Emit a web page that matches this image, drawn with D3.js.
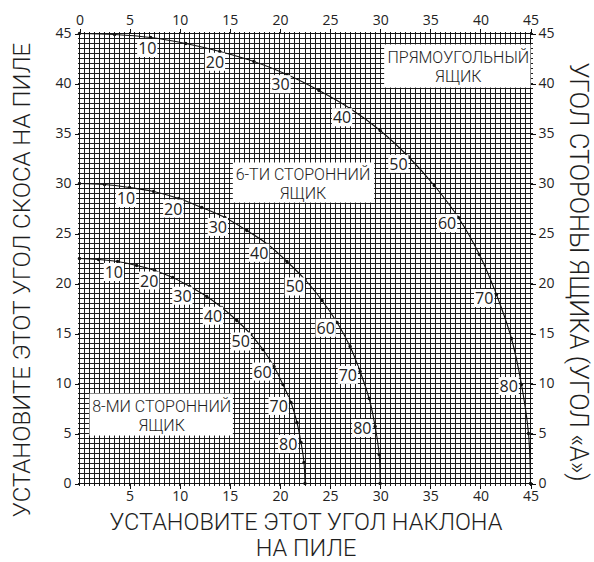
<!DOCTYPE html>
<html>
<head>
<meta charset="utf-8">
<script src="https://cdn.jsdelivr.net/npm/d3@7"></script>
<style>
  html, body { margin: 0; padding: 0; background: #fff; }
  svg { display: block; }
</style>
</head>
<body>
<svg id="chart" width="594" height="562"></svg>
<script>
// Side angle of the box (angle "A"), one point every 5 degrees
const sideAngles = [0, 5, 10, 15, 20, 25, 30, 35, 40, 45, 50, 55, 60, 65, 70, 75, 80, 85, 90];

// Rectangular (4-sided) box: saw tilt and miter settings
const squareTilt  = [0, 3.5, 7.1, 10.6, 14.0, 17.4, 20.7, 23.9, 27.0, 30.0, 32.8, 35.4, 37.8, 39.9, 41.6, 43.1, 44.1, 44.8, 45];
const squareMiter = [45, 44.9, 44.6, 44.0, 43.2, 42.2, 40.9, 39.3, 37.5, 35.3, 32.7, 29.8, 26.6, 22.9, 18.9, 14.5, 9.9, 5.0, 0];

// 6-sided box
const hexTilt  = [0, 2.5, 5.0, 7.4, 9.9, 12.2, 14.5, 16.7, 18.8, 20.7, 22.5, 24.2, 25.7, 27.0, 28.0, 28.9, 29.5, 29.9, 30];
const hexMiter = [30, 29.9, 29.6, 29.2, 28.5, 27.6, 26.6, 25.3, 23.9, 22.2, 20.4, 18.3, 16.1, 13.7, 11.2, 8.5, 5.7, 2.9, 0];

// 8-sided box
const octTilt  = [0, 1.9, 3.8, 5.7, 7.5, 9.3, 11.0, 12.7, 14.2, 15.7, 17.1, 18.3, 19.4, 20.3, 21.1, 21.7, 22.1, 22.4, 22.5];
const octMiter = [22.5, 22.4, 22.2, 21.8, 21.3, 20.6, 19.7, 18.7, 17.6, 16.3, 14.9, 13.4, 11.7, 9.9, 8.1, 6.1, 4.1, 2.1, 0];

// Angles that carry a number on each curve
const labelledAngles = [10, 20, 30, 40, 50, 60, 70, 80];

// Axis tick labels
const topTicks    = [0, 5, 10, 15, 20, 25, 30, 35, 40, 45];
const bottomTicks = [5, 10, 15, 20, 25, 30, 35, 40, 45];
const sideTicks   = [0, 5, 10, 15, 20, 25, 30, 35, 40, 45];

const boxNames = [
  ["ПРЯМОУГОЛЬНЫЙ", "ЯЩИК"],
  ["6-ТИ СТОРОННИЙ", "ЯЩИК"],
  ["8-МИ СТОРОННИЙ", "ЯЩИК"]
];

const xTitle = ["УСТАНОВИТЕ ЭТОТ УГОЛ НАКЛОНА", "НА ПИЛЕ"];
const yTitle = "УСТАНОВИТЕ ЭТОТ УГОЛ СКОСА НА ПИЛЕ";
const y2Title = "УГОЛ СТОРОНЫ ЯЩИКА (УГОЛ «А»)";

const svg = d3.select("#chart");
const x = d3.scaleLinear().domain([0, 45]).range([79.5, 530.5]);
const y = d3.scaleLinear().domain([0, 45]).range([483.5, 33.5]);

const numFont = "'Open Sans', 'Noto Sans', sans-serif";
const titleFont = "Roboto, 'Liberation Sans', Arial, sans-serif";
const inkColor = "#1e1e1e";

// Fine grid, every half degree
const gridVals = d3.range(0, 45.001, 0.5);
const grid = svg.append("g").attr("stroke", "#1a1a1a").attr("stroke-width", 1).attr("shape-rendering", "crispEdges");
grid.selectAll("line.v").data(gridVals).join("line")
  .attr("x1", d => x(d)).attr("x2", d => x(d))
  .attr("y1", y(45) - 2).attr("y2", y(0) + 2);
grid.selectAll("line.h").data(gridVals).join("line")
  .attr("y1", d => y(d)).attr("y2", d => y(d))
  .attr("x1", x(0) - 2).attr("x2", x(45) + 2);

// Axes with major ticks on all four sides
const axisStyle = g => {
  g.select(".domain").remove();
  g.selectAll(".tick line").attr("stroke", "#111").attr("shape-rendering", "crispEdges");
  g.selectAll(".tick text").attr("font-family", numFont).attr("font-size", 14).attr("fill", "#222");
};
svg.append("g").attr("transform", `translate(0,${y(45)})`)
  .call(d3.axisTop(x).tickValues(topTicks).tickSize(5).tickPadding(4)).call(axisStyle);
svg.append("g").attr("transform", `translate(0,${y(0)})`)
  .call(d3.axisBottom(x).tickValues(bottomTicks).tickSize(5).tickPadding(3)).call(axisStyle);
svg.append("g").attr("transform", `translate(${x(0)},0)`)
  .call(d3.axisLeft(y).tickValues(sideTicks).tickSize(5).tickPadding(3)).call(axisStyle);
svg.append("g").attr("transform", `translate(${x(45)},0)`)
  .call(d3.axisRight(y).tickValues(sideTicks).tickSize(5).tickPadding(3)).call(axisStyle);

// Plot frame
svg.append("rect")
  .attr("x", x(0)).attr("y", y(45))
  .attr("width", x(45) - x(0)).attr("height", y(0) - y(45))
  .attr("fill", "none").attr("stroke", "#111").attr("stroke-width", 1)
  .attr("shape-rendering", "crispEdges");

// Name boxes
const boxes = [
  { x0: 30.4, x1: 45, y0: 43.9, y1: 39.6, cx: 37.8, lines: boxNames[0] },
  { x0: 15.3, x1: 29.4, y0: 32.1, y1: 28.1, cx: 22.3, lines: boxNames[1] },
  { x0: 1.0, x1: 15.3, y0: 9.0, y1: 4.8, cx: 8.2, lines: boxNames[2] }
];
boxes.forEach(b => {
  svg.append("rect")
    .attr("x", x(b.x0)).attr("y", y(b.y0))
    .attr("width", x(b.x1) - x(b.x0)).attr("height", y(b.y1) - y(b.y0))
    .attr("fill", "#fff");
  const midY = (y(b.y0) + y(b.y1)) / 2;
  b.lines.forEach((t, i) => {
    svg.append("text")
      .attr("x", x(b.cx)).attr("y", midY + (i === 0 ? -3 : 16))
      .attr("text-anchor", "middle")
      .attr("font-family", titleFont).attr("font-weight", 300)
      .attr("font-size", 16).attr("fill", inkColor)
      .text(t);
  });
});

// Curves
const series = [
  { tilt: squareTilt, miter: squareMiter },
  { tilt: hexTilt, miter: hexMiter },
  { tilt: octTilt, miter: octMiter }
];
const line = d3.line().x(d => x(d[0])).y(d => y(d[1])).curve(d3.curveCatmullRom.alpha(0.5));

series.forEach(s => {
  const pts = sideAngles.map((a, i) => [s.tilt[i], s.miter[i], a]);
  svg.append("path").datum(pts)
    .attr("d", line).attr("fill", "none").attr("stroke", "#111").attr("stroke-width", 1.1);
  svg.append("g").selectAll("circle").data(pts).join("circle")
    .attr("cx", d => x(d[0])).attr("cy", d => y(d[1])).attr("r", 1.7).attr("fill", "#111");

  // Number labels set off the curve towards its inside
  labelledAngles.forEach(a => {
    const i = sideAngles.indexOf(a);
    const p = pts[i], pPrev = pts[i - 1], pNext = pts[i + 1];
    const tx = x(pNext[0]) - x(pPrev[0]);
    const ty = y(pNext[1]) - y(pPrev[1]);
    const len = Math.hypot(tx, ty);
    const nx = -ty / len, ny = tx / len;
    const off = 11;
    const lx = x(p[0]) + nx * off - 2;
    const ly = y(p[1]) + ny * off;
    const g = svg.append("g");
    const t = g.append("text")
      .attr("x", lx).attr("y", ly).attr("dy", "0.35em")
      .attr("text-anchor", "middle")
      .attr("font-family", numFont).attr("font-size", 16).attr("fill", "#222")
      .text(a);
    const bb = t.node().getBBox();
    g.insert("rect", "text")
      .attr("x", bb.x - 1).attr("y", bb.y + 2)
      .attr("width", bb.width + 2).attr("height", bb.height - 4)
      .attr("fill", "#fff");
  });
});

// Axis titles
xTitle.forEach((t, i) => {
  svg.append("text")
    .attr("x", 306).attr("y", 530 + i * 26)
    .attr("text-anchor", "middle")
    .attr("font-family", titleFont).attr("font-weight", 300)
    .attr("font-size", 23.5).attr("fill", inkColor)
    .text(t);
});
svg.append("text")
  .attr("transform", `translate(30,280) rotate(-90)`)
  .attr("text-anchor", "middle")
  .attr("font-family", titleFont).attr("font-weight", 300)
  .attr("font-size", 24).attr("fill", inkColor)
  .text(yTitle);
svg.append("text")
  .attr("transform", `translate(570,272) rotate(90)`)
  .attr("text-anchor", "middle")
  .attr("font-family", titleFont).attr("font-weight", 300)
  .attr("font-size", 25.5).attr("fill", inkColor)
  .text(y2Title);
</script>
</body>
</html>
